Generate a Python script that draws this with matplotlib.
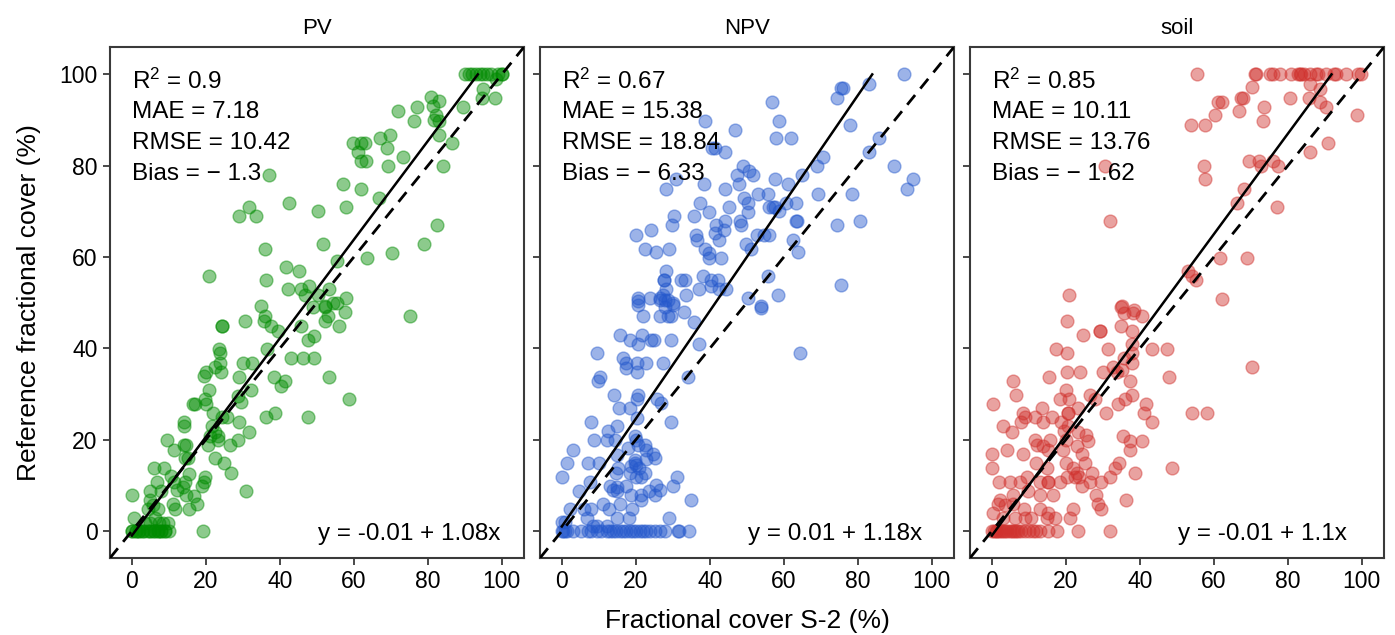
import numpy as np
import matplotlib
matplotlib.use("Agg")
import matplotlib.pyplot as plt

plt.rcParams['font.family'] = ['Liberation Sans', 'DejaVu Sans']
plt.rcParams['mathtext.fontset'] = 'custom'
plt.rcParams['mathtext.rm'] = 'Liberation Sans'
plt.rcParams['mathtext.it'] = 'Liberation Sans:italic'

# %%
# data (percent)
panels = ["PV", "NPV", "soil"]
colors = ["#008B00", "#2458CC", "#D0312D"]

pv_x = [90, 91, 92, 93, 94, 95, 96, 97, 99, 100, 100, 98.4, 94.8, 94.6, 98.2,
        80.8, 83.1, 81.3, 77.2, 71.9, 89.4, 82.2, 76.3, 81.7, 82.9, 82.9, 86.5,
        69.9, 67.2, 59.7, 62.0, 62.9, 61.1, 62.0, 63.3, 68.9, 69.2, 73.2, 84.0,
        37.1, 57.0, 62.0, 66.7, 42.4, 57.9, 31.8, 28.9, 33.5, 50.4, 82.6, 36.1,
        51.6, 79.0, 70.3, 55.4, 63.6, 20.9, 41.7, 45.3, 36.3, 42.2, 45.8, 47.8,
        46.7, 50.3, 53.2, 57.9, 54.3, 55.4, 34.8, 52.1,
        36.0, 35.7, 37.7, 39.5, 30.5, 24.5, 24.5, 45.8, 48.9, 52.2, 53.0, 52.3,
        55.9, 57.5, 75.2, 49.2, 47.7, 36.6, 43.1, 46.2, 49.2, 23.5, 23.9, 23.9,
        22.4, 24.0, 30.0, 32.5, 20.1, 19.4, 29.0, 38.4, 41.5, 40.2, 53.4, 20.9,
        28.7, 29.6, 32.1, 58.6, 19.7, 20.1, 16.5, 17.2, 21.9, 24.5, 25.7, 29.1,
        31.6, 36.3, 38.8, 47.6, 14.0, 14.0, 21.8, 22.4, 21.0, 23.3, 23.3, 20.6,
        26.4, 28.7, 9.6, 11.3, 14.0, 14.6, 14.3, 15.2, 22.4, 24.9, 26.7, 6.0,
        8.6, 6.8, 4.9, 8.0, 10.7, 11.3, 12.2, 13.8, 14.6, 15.5, 14.3, 19.7, 19.4,
        19.0, 16.8, 17.7, 15.5, 11.2, 11.6, 30.9, 0.0, 4.9, 5.8, 7.1, 4.4, 0.5,
        6.2, 3.5, 4.9, 7.4, 8.5, 9.8,
        0, 0, 1, 1, 2, 2, 3, 3, 4, 5, 5, 6, 6, 7, 7, 8, 8, 9, 9, 10, 19.2]
pv_y = [100, 100, 100, 100, 100, 100, 100, 100, 100, 100, 100, 98.9, 96.9, 94.9,
        94.9, 95.0, 94.2, 93.1, 92.9, 92.0, 92.9, 91.2, 89.9, 90.1, 89.9, 86.8,
        84.9, 86.8, 86.0, 84.9, 84.9, 84.9, 83.0, 81.0, 81.0, 83.9, 79.9, 81.9,
        79.9, 77.9, 75.9, 74.9, 73.0, 71.9, 70.9, 71.0, 69.1, 69.1, 70.0, 67.0,
        61.8, 62.9, 62.9, 60.9, 59.1, 59.8, 55.9, 57.9, 56.9, 55.0, 53.0, 53.0,
        53.7, 51.8, 51.8, 53.0, 51.0, 49.9, 49.9, 49.2, 49.2,
        47.0, 46.1, 45.0, 43.9, 45.9, 45.0, 45.0, 45.0, 49.0, 49.0, 47.0, 45.9,
        45.0, 47.9, 47.0, 42.8, 41.9, 39.8, 37.9, 37.9, 37.9, 39.8, 39.0, 36.9,
        35.9, 34.9, 36.9, 36.9, 34.9, 34.0, 33.8, 33.8, 32.9, 31.8, 33.8, 30.9,
        29.6, 28.3, 30.8, 28.9, 28.9, 27.9, 27.9, 27.9, 25.8, 24.9, 24.9, 23.8,
        21.8, 24.9, 25.8, 24.9, 23.8, 22.9, 22.9, 21.8, 20.8, 20.8, 20.0, 18.9,
        18.9, 20.0, 20.0, 17.8, 18.9, 18.9, 15.9, 15.9, 15.9, 14.8, 12.8, 13.9,
        13.9, 10.8, 8.8, 8.8, 12.1, 10.8, 9.0, 9.7, 7.9, 12.6, 10.8, 11.9, 10.8,
        9.9, 7.7, 5.9, 4.8, 5.9, 4.8, 8.8, 7.9, 6.8, 5.7, 4.8, 4.8, 2.8,
        2.8, 1.7, 1.7, 1.8, 1.8, 1.8,
        0, 0, 0, 0, 0, 0, 0, 0, 0, 0, 0, 0, 0, 0, 0, 0, 0, 0, 0, 0, 0]

npv_x = [92.5, 76.1, 74.5, 75.4, 82.9, 56.8, 58.8, 78.0, 38.6, 46.9, 57.9, 62.0,
         85.8, 40.6, 41.3, 44.0, 83.1, 70.5, 68.9, 89.7, 48.9, 50.7, 51.6, 47.4,
         57.5, 64.9, 94.8, 93.2, 30.9, 38.4, 47.8, 28.2, 44.2, 61.1, 53.0, 55.8,
         49.2, 50.3, 69.2, 78.4, 37.4, 56.1, 57.0, 57.7, 58.8, 60.6, 63.3, 45.1,
         39.7, 50.3, 35.7, 30.2, 63.6, 63.3, 74.3, 80.7, 29.8, 41.7, 44.0, 48.2,
         48.5, 43.8, 41.3, 20.1, 24.2, 36.3, 36.6, 42.4, 52.8, 54.6, 56.1, 62.4,
         22.4, 25.5, 29.0, 38.6, 39.7, 39.9, 43.1, 49.8, 51.2, 63.8, 28.1, 38.1,
         27.6, 27.6, 32.3, 33.2, 40.4, 42.2, 40.4, 55.8, 75.4, 37.0, 42.4, 44.4,
         28.2, 27.3, 28.0, 58.4, 20.6, 23.7, 26.4, 33.6, 50.3, 30.0, 53.7,
         20.6, 20.6, 26.4, 28.7, 27.8, 30.0, 21.9, 26.4, 28.7, 29.4, 33.0, 35.7,
         53.9, 15.6, 18.3, 20.6, 21.7, 24.2, 24.8, 29.6, 37.2, 9.6, 16.4, 17.4,
         17.4, 20.3, 20.3, 22.7, 27.3, 64.4, 10.2, 9.9, 34.1, 14.1, 20.6, 20.3,
         25.8, 26.7, 15.4, 18.3, 20.3, 29.6, 7.8, 14.9, 12.5, 8.6, 12.1, 14.3,
         19.7, 20.1, 17.9, 20.6, 22.4, 22.8, 24.6, 25.1, 3.1, 14.9, 19.7, 19.7,
         20.1, 22.7, 1.5, 7.1, 10.1, 15.2, 18.6, 20.9, 14.6, 18.3, 22.4, 21.5,
         0.0, 7.7, 31.1, 12.9, 13.7, 14.9, 15.0, 17.4, 20.1, 30.0, 25.4, 26.4,
         25.1, 4.7, 18.8, 21.3, 21.5, 23.6, 34.8, 11.0, 15.6, 19.1, 2.3, 6.0,
         8.0, 12.8, 6.7, 14.9, 18.1, 28.9, 0.0, 0.8, 8.5, 9.4, 12.1,
         0.0, 0.4, 0.8, 1.3, 3.1, 5.3, 7.1, 8.0, 9.4, 10.7, 12.1, 13.0, 13.8,
         14.7, 15.6, 16.5, 17.4, 18.3, 19.2, 20.1, 21.0, 21.9, 22.8, 23.7, 25.1,
         26.4, 27.8, 31.4, 31.8, 34.4]
npv_y = [100, 97.1, 94.9, 97.1, 98.0, 94.0, 89.9, 88.9, 89.9, 87.9, 86.0, 86.0,
         86.0, 83.9, 83.9, 83.0, 83.0, 81.9, 79.9, 79.9, 79.9, 78.9, 77.9, 77.9,
         77.0, 77.9, 77.0, 74.9, 77.0, 76.0, 76.0, 74.9, 74.9, 75.9, 73.9, 73.9,
         73.0, 71.9, 73.9, 73.9, 71.9, 70.9, 70.9, 70.9, 70.0, 71.9, 71.9, 70.9,
         69.9, 69.9, 68.9, 68.9, 67.8, 67.8, 67.0, 67.8, 67.0, 67.0, 67.8, 67.8,
         67.0, 65.9, 65.3, 64.9, 65.9, 64.9, 63.8, 63.8, 64.9, 64.9, 64.9, 63.8,
         61.8, 61.0, 61.8, 61.8, 60.9, 59.8, 59.8, 62.9, 61.8, 61.0, 57.0, 55.8,
         55.0, 55.0, 55.0, 55.0, 55.0, 55.0, 53.7, 55.8, 53.8, 53.0, 53.0, 53.0,
         53.0, 51.8, 50.7, 51.8, 51.0, 51.0, 51.0, 51.8, 51.0, 49.9, 49.2,
         50.3, 49.6, 50.5, 50.5, 49.0, 49.6, 47.0, 47.0, 47.0, 47.0, 47.9, 45.8,
         48.8, 43.0, 41.9, 41.0, 43.0, 41.9, 41.9, 41.9, 40.9, 39.0, 37.9, 36.9,
         35.8, 36.9, 34.9, 36.9, 36.9, 39.0, 33.8, 32.9, 33.8, 29.8, 29.8, 28.9,
         28.9, 28.0, 26.9, 26.9, 24.7, 23.8, 23.8, 22.9, 21.9, 20.0, 20.0, 20.0,
         20.8, 20.0, 18.1, 18.9, 18.9, 17.8, 16.9, 15.9, 17.8, 16.7, 15.6, 14.8,
         14.5, 15.7, 14.8, 14.8, 14.8, 13.9, 14.3, 13.9, 12.8, 12.8, 12.8, 11.9,
         11.9, 10.8, 11.9, 9.9, 9.1, 9.7, 8.8, 9.9, 11.9, 9.9, 10.1, 9.0,
         7.9, 8.8, 7.9, 7.9, 6.8, 8.8, 6.8, 5.9, 5.9, 4.8, 4.8, 4.8,
         4.8, 4.8, 2.8, 2.8, 2.8, 2.8, 2.0, 2.0, 1.0, 1.0, 1.0,
         0, 0, 0, 0, 0, 0, 0, 0, 0, 0, 0, 0, 0, 0, 0, 0, 0, 0, 0, 0, 0, 0, 0, 0,
         0, 0, 0, 0, 0, 0]

soil_x = [55.5, 71.0, 71.5, 75.3, 76.0, 78.0, 80.9, 82.7, 83.2, 83.6, 84.5, 85.9,
          87.5, 88.1, 90.2, 92.4, 93.1, 95.8, 98.9, 99.8, 85.9, 88.8, 70.4, 61.2,
          62.1, 67.3, 67.9, 80.7, 85.6, 88.6, 90.4, 66.8, 73.5, 60.4, 73.3, 53.8,
          57.6, 98.7, 90.8, 86.1, 69.5, 72.2, 76.0, 72.7, 77.3, 57.3, 30.6, 57.7,
          68.2, 66.4, 77.2, 31.9, 61.8, 69.0, 52.9, 54.0, 55.3, 20.9, 62.3, 35.1,
          38.4,
          34.9, 35.8, 38.2, 40.7, 20.4, 29.2, 29.2, 34.9, 38.0, 24.6, 37.8, 17.4,
          20.4, 31.5, 43.2, 47.4, 38.0, 35.8, 38.0, 70.4, 20.2, 23.8, 30.1, 32.8,
          33.7, 35.3, 15.5, 47.8, 5.6, 37.3, 6.6, 20.1, 18.3, 20.9, 26.5, 27.9,
          36.0, 38.0, 34.0, 23.2, 0.3, 13.5, 8.5, 20.7, 20.7, 30.8, 41.8, 41.1,
          54.1, 58.2, 43.4, 9.0, 7.9, 11.7, 13.8, 16.2, 18.7, 20.7, 3.1, 5.4,
          19.5, 23.4, 25.4, 25.9, 11.7, 12.3, 15.7, 20.0, 19.3, 35.5, 37.3, 40.5,
          4.0, 13.9, 15.3, 23.1, 37.3, 8.5, 0.0, 24.3, 25.2, 12.0, 15.0, 20.1,
          21.9, 0.0, 34.4, 33.3, 48.8, 23.1, 20.2, 22.5, 23.6, 27.1, 38.7, 2.0,
          4.8, 7.5, 9.4, 12.9, 15.3, 15.3, 18.3, 24.3, 26.5, 29.5, 31.9, 5.8, 9.9,
          13.0, 16.6, 28.1, 28.6, 29.5, 36.2, 2.2, 1.6, 3.6, 5.8, 8.8, 13.0, 15.1,
          22.0, 0.4, 3.1, 6.3, 9.0, 10.6, 15.0, 17.1, 21.1,
          0, 0.5, 1, 1.5, 2, 2.5, 3, 3.5, 4, 5, 5.5, 6, 6.5, 7, 8, 9, 10, 11,
          12, 13, 15.3, 17.5, 23.4, 31.9]
soil_y = [100, 100, 100, 100, 100, 100, 100, 100, 100, 100, 100, 100, 100, 100,
          100, 100, 100, 100, 100, 100, 98.0, 96.9, 97.2, 94.0, 94.0, 94.9, 94.9,
          94.9, 94.9, 94.0, 92.9, 92.0, 92.9, 91.0, 89.9, 88.9, 88.9, 91.0, 85.0,
          83.0, 81.0, 81.0, 81.0, 80.0, 79.9, 79.9, 80.0, 77.0, 74.9, 71.9, 70.9,
          67.8, 59.8, 59.8, 56.9, 55.8, 54.9, 51.8, 50.8, 49.2, 48.5,
          49.0, 47.7, 47.7, 47.0, 45.9, 43.9, 43.9, 45.0, 43.9, 43.0, 40.9, 39.8,
          39.0, 39.8, 39.8, 39.8, 39.0, 37.9, 36.9, 35.9, 34.9, 34.9, 34.9, 36.0,
          34.9, 35.3, 33.8, 33.8, 32.9, 32.9, 29.8, 30.9, 28.9, 28.9, 29.8, 28.9,
          28.9, 29.8, 27.9, 26.9, 27.9, 26.9, 25.8, 25.8, 25.8, 25.8, 27.9, 25.8,
          25.8, 25.8, 23.8, 24.9, 23.8, 24.9, 23.8, 24.9, 23.8, 22.9, 22.9, 21.8,
          21.9, 21.8, 21.1, 19.8, 20.0, 18.9, 20.0, 20.0, 17.8, 20.8, 19.8, 19.8,
          17.8, 18.7, 17.8, 18.7, 17.8, 16.9, 16.9, 16.9, 14.8, 14.8, 13.7, 14.8,
          13.7, 13.9, 14.8, 13.7, 13.9, 12.8, 11.9, 11.9, 11.9, 12.8, 12.8, 10.8,
          10.8, 10.8, 11.9, 10.8, 10.8, 10.8, 10.8, 9.9, 10.8, 10.8, 11.9, 7.9, 8.8,
          7.9, 7.9, 7.9, 5.9, 4.8, 6.8, 6.8, 5.9, 5.7, 5.9, 4.8, 4.8, 3.9,
          4.8, 3.9, 2.8, 2.8, 2.8, 2.8, 2.8, 2.8, 2.8,
          0, 0, 0, 0, 0, 0, 0, 0, 0, 0, 0, 0, 0, 0, 0, 0, 0, 0,
          0, 0, 0, 0, 0, 0]

xs = [pv_x, npv_x, soil_x]
ys = [pv_y, npv_y, soil_y]

# fit y = a + b x (percent)
fit_a = [-1.0, 1.0, -1.0]
fit_b = [1.08, 1.18, 1.10]

stats_r2 = ["0.9", "0.67", "0.85"]
stats_mae = ["7.18", "15.38", "10.11"]
stats_rmse = ["10.42", "18.84", "13.76"]
stats_bias = ["1.3", "6.33", "1.62"]
equations = ["y = -0.01 + 1.08x", "y = 0.01 + 1.18x", "y = -0.01 + 1.1x"]

ticks = [0, 20, 40, 60, 80, 100]
lim = (-5.9, 106)

# %%
W, H = 1395, 635
fig = plt.figure(figsize=(W / 100, H / 100), dpi=100)
lefts = [110, 540, 970]
aw, top, bot = 414, 47, 558
frame = "#3a3a3a"

for i, name in enumerate(panels):
    ax = fig.add_axes([lefts[i] / W, (H - bot) / H, aw / W, (bot - top) / H])
    ax.set_xlim(lim); ax.set_ylim(lim)
    ax.plot(lim, lim, color="black", lw=2, ls=(0, (4.5, 3)), zorder=3)
    xe = (100 - fit_a[i]) / fit_b[i]
    ax.plot([0, xe], [fit_a[i], fit_a[i] + fit_b[i] * xe], color="black",
            lw=1.8, zorder=3)
    ax.scatter(xs[i], ys[i], s=85, color=colors[i], alpha=0.45,
               linewidths=1.0, zorder=2)
    ax.set_xticks(ticks); ax.set_yticks(ticks)
    if i > 0:
        ax.set_yticklabels([])
    ax.tick_params(direction="out", length=5, width=1.3, color=frame,
                   labelsize=16.5, pad=4)
    for sp in ax.spines.values():
        sp.set_color(frame); sp.set_linewidth(1.5)
    ax.set_title(name, fontsize=16, pad=9)
    fs = 17.5
    ax.text(0, 96.9, "R$^2$ = " + stats_r2[i], fontsize=fs, va="baseline")
    ax.text(0, 90.4, "MAE = " + stats_mae[i], fontsize=fs, va="baseline")
    ax.text(0, 83.6, "RMSE = " + stats_rmse[i], fontsize=fs, va="baseline")
    ax.text(0, 76.8, "Bias = \u2212 " + stats_bias[i], fontsize=fs, va="baseline")
    ax.text(50.3, -2.0, equations[i], fontsize=fs, va="baseline")

fig.text(29 / W, 1 - 303 / H, "Reference fractional cover (%)", rotation=90,
         ha="center", va="center", fontsize=19)
fig.text(747 / W, 1 - 621 / H, "Fractional cover S-2 (%)", ha="center",
         va="center", fontsize=19)

fig.savefig("out.png", dpi=100)
